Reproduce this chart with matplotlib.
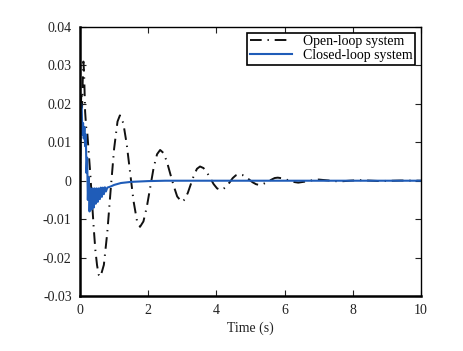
import matplotlib
matplotlib.use("Agg")
import matplotlib.pyplot as plt

# Open-loop response
t_open = [0, 0.02, 0.04, 0.06, 0.08, 0.10, 0.12, 0.15, 0.18, 0.21, 0.25, 0.30, 0.35, 0.40, 0.45,
          0.50, 0.55, 0.60, 0.70, 0.80, 0.90, 1.00, 1.10, 1.17, 1.27, 1.37, 1.47, 1.57, 1.67, 1.76,
          1.86, 1.96, 2.06, 2.16, 2.26, 2.35, 2.45, 2.55, 2.65, 2.75, 2.85, 2.98, 3.07, 3.16, 3.25,
          3.34, 3.43, 3.52, 3.62, 3.72, 3.82, 3.92, 4.02, 4.12, 4.21, 4.30, 4.39, 4.48, 4.57, 4.66,
          4.76, 4.86, 4.96, 5.06, 5.16, 5.25, 5.34, 5.43, 5.52, 5.62, 5.71, 5.80, 5.95, 6.10, 6.25,
          6.40, 6.55, 6.70, 6.85, 7.00, 7.30, 7.60, 7.90, 8.20, 8.80, 9.40, 10.0]
y_open = [0, 0.018, 0.023, 0.019, 0.026, 0.031, 0.028, 0.018, 0.014, 0.013, 0.008, 0.002, -0.005,
          -0.012, -0.018, -0.022, -0.0245, -0.025, -0.0219, -0.0135, -0.0023, 0.0083, 0.0154, 0.017,
          0.0150, 0.0095, 0.0021, -0.0053, -0.0104, -0.012, -0.0106, -0.0068, -0.0017, 0.0034, 0.0069,
          0.008, 0.0072, 0.0049, 0.0017, -0.0014, -0.0041, -0.0055, -0.0049, -0.0032, -0.0009, 0.0014,
          0.0031, 0.0037, 0.0033, 0.0022, 0.00065, -0.0009, -0.0020, -0.0024, -0.0021, -0.0014,
          -0.0004, 0.0007, 0.0014, 0.0017, 0.0015, 0.0010, 0.0003, -0.0004, -0.0009, -0.0011, -0.0010,
          -0.0006, -0.00015, 0.0003, 0.0007, 0.0008, 0.0006, 0.00015, -0.0003, -0.0005, -0.0003,
          -0.0001, 0.0002, 0.0003, 0.00005, -0.0002, 0.0, 0.00015, -0.0001, 0.00005, 0.0]

# Closed-loop response
t_closed = [0, 0.03, 0.05, 0.07, 0.09, 0.11, 0.13, 0.15, 0.17, 0.19, 0.21, 0.23, 0.25, 0.28, 0.31,
            0.34, 0.37, 0.40, 0.43, 0.46, 0.49, 0.52, 0.55, 0.58, 0.61, 0.64, 0.67, 0.70, 0.73, 0.76,
            0.80, 0.90, 1.0, 1.2, 1.5, 2.0, 2.5, 10.0]
y_closed = [0, 0.020, 0.019, 0.012, 0.015, 0.011, 0.014, 0.009, 0.012, 0.002, 0.006, -0.005, 0.001,
            -0.008, -0.002, -0.0075, -0.002, -0.007, -0.002, -0.006, -0.002, -0.0055, -0.002, -0.0048,
            -0.0018, -0.0042, -0.0018, -0.0035, -0.0017, -0.0028, -0.0018, -0.0015, -0.0011, -0.0006,
            -0.0003, -0.0001, 0.0, 0.0]

x_ticks = [0, 2, 4, 6, 8, 10]
y_ticks = [-0.03, -0.02, -0.01, 0, 0.01, 0.02, 0.03, 0.04]
y_labels = ["-0.03", "-0.02", "-0.01", "0", "0.01", "0.02", "0.03", "0.04"]

plt.rcParams['font.family'] = ['Liberation Serif', 'DejaVu Serif']
plt.rcParams['font.size'] = 10

fig = plt.figure(figsize=(4.64, 3.51), dpi=100)
ax = fig.add_axes([80/464, 1-296/351, 341/464, 269/351])

ax.plot(t_open, y_open, color='#111111', lw=1.4, dashes=(6, 3, 0.7, 3), label='Open-loop system')
ax.plot(t_closed, y_closed, color='#1f5cb8', lw=1.5, label='Closed-loop system')

ax.set_xlim(0, 10)
ax.set_ylim(-0.03, 0.04)
ax.set_xticks(x_ticks)
ax.set_xticklabels([str(v) for v in x_ticks])
ax.set_yticks(y_ticks)
ax.set_yticklabels(y_labels)
ax.tick_params(direction='in', top=True, right=True, length=4, width=0.8, pad=6,
               colors='#222222')
for s in ax.spines.values():
    s.set_linewidth(1.0)
ax.spines['left'].set_linewidth(1.8)
ax.spines['bottom'].set_linewidth(1.8)
ax.set_xlabel('Time (s)', labelpad=3, color='#222222')

leg = ax.legend(loc='upper right', fancybox=False, edgecolor='black', framealpha=1,
                borderpad=0.2, labelspacing=0.05, handlelength=3.0, handletextpad=0.8,
                borderaxespad=0.4)
leg.get_frame().set_linewidth(1.2)

fig.savefig('out.png', dpi=100)
